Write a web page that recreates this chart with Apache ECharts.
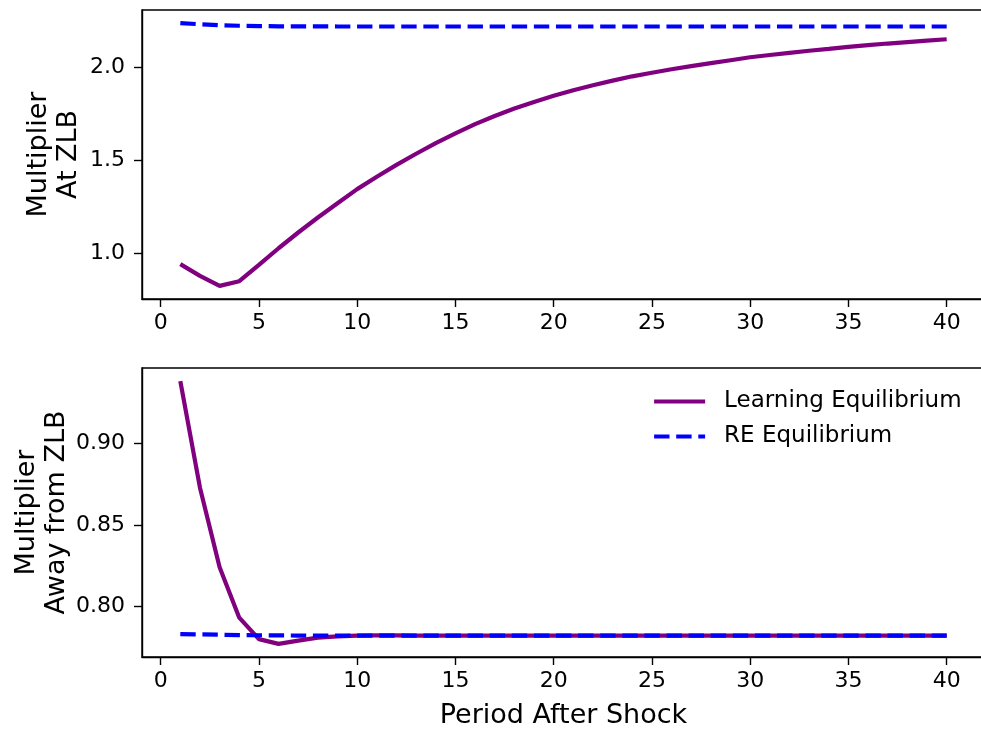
<!DOCTYPE html>
<html>
<head>
<meta charset="utf-8">
<script src="https://cdn.jsdelivr.net/npm/echarts@6/dist/echarts.min.js"></script>
<style>
  html, body { margin: 0; padding: 0; background: #fff; }
  #main { width: 981px; height: 734px; }
</style>
</head>
<body>
<div id="main"></div>
<script>
// periods after the shock
var periods = [1, 2, 3, 4, 5, 6, 7, 8, 9, 10, 11, 12, 13, 14, 15, 16, 17, 18, 19, 20,
	21, 22, 23, 24, 25, 26, 27, 28, 29, 30, 31, 32, 33, 34, 35, 36, 37, 38, 39, 40];

// multiplier at ZLB
var learnZlb = [0.939, 0.876, 0.822, 0.847, 0.935, 1.025, 1.110, 1.191, 1.268, 1.344,
	1.411, 1.475, 1.535, 1.592, 1.645, 1.695, 1.739, 1.779, 1.815, 1.848,
	1.878, 1.905, 1.930, 1.953, 1.972, 1.991, 2.008, 2.024, 2.040, 2.056,
	2.068, 2.080, 2.091, 2.101, 2.112, 2.121, 2.130, 2.138, 2.146, 2.153];
var reZlb = [2.240, 2.234, 2.229, 2.226, 2.224, 2.223, 2.223, 2.223, 2.222, 2.222,
	2.222, 2.222, 2.222, 2.222, 2.222, 2.222, 2.222, 2.222, 2.222, 2.222,
	2.222, 2.222, 2.222, 2.222, 2.222, 2.222, 2.222, 2.222, 2.222, 2.222,
	2.222, 2.222, 2.222, 2.222, 2.222, 2.222, 2.222, 2.222, 2.222, 2.222];

// multiplier away from ZLB
var learnAway = [0.9385, 0.8729, 0.8240, 0.7929, 0.7797, 0.7768, 0.7788, 0.7806, 0.7814, 0.7819,
	0.7821, 0.7820, 0.7818, 0.7818, 0.7818, 0.7818, 0.7818, 0.7818, 0.7818, 0.7818,
	0.7818, 0.7818, 0.7818, 0.7818, 0.7818, 0.7818, 0.7818, 0.7818, 0.7818, 0.7818,
	0.7818, 0.7818, 0.7818, 0.7818, 0.7818, 0.7818, 0.7818, 0.7818, 0.7818, 0.7818];
var reAway = [0.7828, 0.7826, 0.7824, 0.7822, 0.7821, 0.7820, 0.7819, 0.7819, 0.7818, 0.7818,
	0.7818, 0.7818, 0.7818, 0.7818, 0.7818, 0.7818, 0.7818, 0.7818, 0.7818, 0.7818,
	0.7818, 0.7818, 0.7818, 0.7818, 0.7818, 0.7818, 0.7818, 0.7818, 0.7818, 0.7818,
	0.7818, 0.7818, 0.7818, 0.7818, 0.7818, 0.7818, 0.7818, 0.7818, 0.7818, 0.7818];

// tick labels
var xTicks = [0, 5, 10, 15, 20, 25, 30, 35, 40];
var yTicksTop = [1.0, 1.5, 2.0];
var yTicksBottom = [0.80, 0.85, 0.90];

var FONT = 'DejaVu Sans';

function pairs(ys) {
	return periods.map(function (p, i) { return [p, ys[i]]; });
}

function xAxis(idx, name) {
	return {
		type: 'value', gridIndex: idx, min: -0.95, max: 41.95,
		name: name, nameLocation: 'middle', nameGap: 45, nameMoveOverlap: false,
		nameTextStyle: { fontFamily: FONT, fontSize: 27, color: '#000' },
		axisLine: { show: true, onZero: false, lineStyle: { color: '#000', width: 1.4 } },
		axisTick: { show: true, length: 8, customValues: xTicks, lineStyle: { color: '#000', width: 1.4 } },
		axisLabel: { customValues: xTicks, margin: 13, fontFamily: FONT, fontSize: 22, color: '#000' },
		splitLine: { show: false }
	};
}

function yAxis(idx, name, min, max, ticks, digits, gap) {
	return {
		type: 'value', gridIndex: idx, min: min, max: max,
		name: name, nameLocation: 'middle', nameGap: gap, nameMoveOverlap: false,
		nameTextStyle: { fontFamily: FONT, fontSize: 27, color: '#000', align: 'center', lineHeight: 30 },
		axisLine: { show: true, onZero: false, lineStyle: { color: '#000', width: 1.4 } },
		axisTick: { show: true, length: 8, customValues: ticks, lineStyle: { color: '#000', width: 1.4 } },
		axisLabel: {
			customValues: ticks, margin: 17, fontFamily: FONT, fontSize: 22, color: '#000',
			formatter: function (v) { return v.toFixed(digits); }
		},
		splitLine: { show: false }
	};
}

var purple = '#800080';
var blue = '#0000ff';

var option = {
	animation: false,
	backgroundColor: '#fff',
	grid: [
		{ left: 142, right: -4, top: 10, height: 289, outerBoundsMode: 'none',
			show: true, borderColor: '#000', borderWidth: 1.4 },
		{ left: 142, right: -4, top: 368, height: 289, outerBoundsMode: 'none',
			show: true, borderColor: '#000', borderWidth: 1.4 }
	],
	legend: {
		data: ['Learning Equilibrium', 'RE Equilibrium'],
		orient: 'vertical',
		left: 652, top: 390, padding: 0,
		itemWidth: 51, itemHeight: 14, itemGap: 12,
		itemStyle: { opacity: 0 },
		lineStyle: { width: 4.2 },
		textStyle: { fontFamily: FONT, fontSize: 23, color: '#000', padding: [0, 0, 0, 14] }
	},
	xAxis: [xAxis(0, ''), xAxis(1, 'Period After Shock')],
	yAxis: [
		yAxis(0, 'Multiplier\nAt ZLB', 0.751, 2.311, yTicksTop, 1, 58),
		yAxis(1, 'Multiplier\nAway from ZLB', 0.7687, 0.9466, yTicksBottom, 2, 70)
	],
	series: [
		{
			name: 'Learning Equilibrium', type: 'line', xAxisIndex: 0, yAxisIndex: 0,
			data: pairs(learnZlb), symbol: 'none', color: purple,
			lineStyle: { color: purple, width: 4.2 }
		},
		{
			name: 'RE Equilibrium', type: 'line', xAxisIndex: 0, yAxisIndex: 0,
			data: pairs(reZlb), symbol: 'none', color: blue,
			lineStyle: { color: blue, width: 4.2, type: [15.4, 6.7] }
		},
		{
			name: 'Learning Equilibrium', type: 'line', xAxisIndex: 1, yAxisIndex: 1,
			data: pairs(learnAway), symbol: 'none', color: purple,
			lineStyle: { color: purple, width: 4.2 }
		},
		{
			name: 'RE Equilibrium', type: 'line', xAxisIndex: 1, yAxisIndex: 1,
			data: pairs(reAway), symbol: 'none', color: blue,
			lineStyle: { color: blue, width: 4.2, type: [15.4, 6.7] }
		}
	]
};

var chart = echarts.init(document.getElementById('main'), null, { renderer: 'canvas' });
chart.setOption(option);
</script>
</body>
</html>
